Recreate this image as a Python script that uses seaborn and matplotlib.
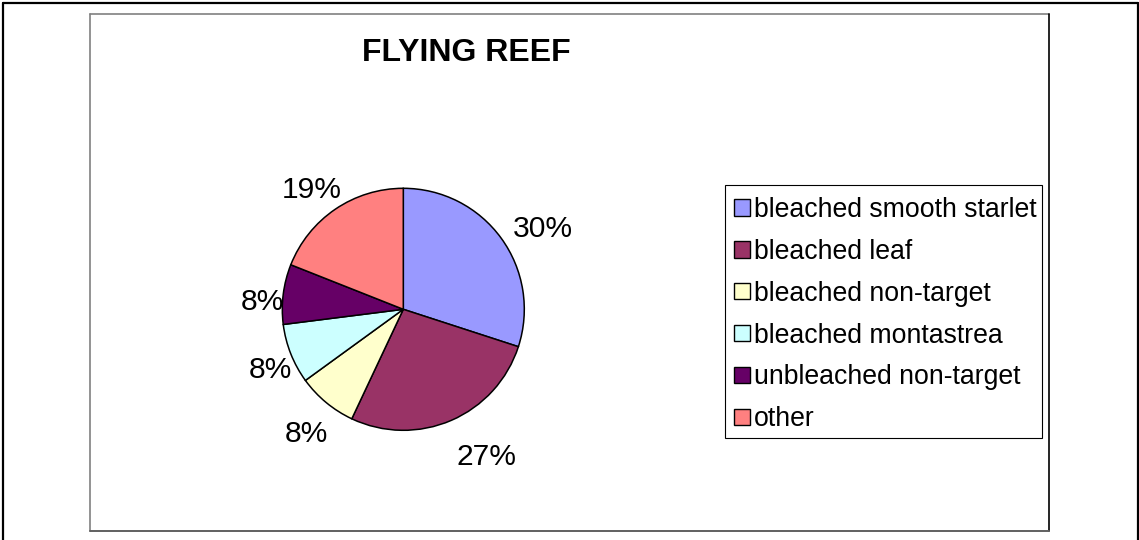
import matplotlib
matplotlib.use("Agg")
import matplotlib.pyplot as plt
import seaborn as sns
import numpy as np
from matplotlib.lines import Line2D
from matplotlib.patches import Rectangle, Wedge
from matplotlib.legend_handler import HandlerPatch

# ---- data ----
categories = ["bleached smooth starlet", "bleached leaf", "bleached non-target",
              "bleached montastrea", "unbleached non-target", "other"]
values = [30, 27, 8, 8, 8, 19]
pct_labels = ["30%", "27%", "8%", "8%", "8%", "19%"]
title = "FLYING REEF"

# ---- style ----
colors = ["#9999FF", "#993366", "#FFFFCC", "#CCFFFF", "#660066", "#FF8080"]
label_angle_offset = [-5.8, 6.3, 1.4, 2.3, 3.8, 2.9]   # degrees
label_dist = [1.336, 1.396, 1.295, 1.205, 1.17, 1.255]  # in radii

sns.set_theme(style="white")
plt.rcParams['font.family'] = ['Liberation Sans', 'DejaVu Sans']
plt.rcParams['text.color'] = 'black'

W, H = 1139, 540
fig = plt.figure(figsize=(W / 100, H / 100), dpi=100)
fig.patch.set_facecolor("white")

def fx(px):
    return px / W

def fy(py):
    return 1 - py / H

# outer border (left, top, right)
lw_outer = 1.6
fig.add_artist(Line2D([fx(2.5), fx(2.5)], [fy(2.5), 0], color="black", lw=lw_outer, transform=fig.transFigure))
fig.add_artist(Line2D([fx(2.5), fx(1137.5)], [fy(2.5), fy(2.5)], color="black", lw=lw_outer, transform=fig.transFigure))
fig.add_artist(Line2D([fx(1137.5), fx(1137.5)], [fy(2.5), 0], color="black", lw=lw_outer, transform=fig.transFigure))

# inner plot-area frame
fig.add_artist(Line2D([fx(90), fx(90)], [fy(13.5), fy(531)], color="#808080", lw=1.2, transform=fig.transFigure))
fig.add_artist(Line2D([fx(90), fx(1049)], [fy(13.5), fy(13.5)], color="#808080", lw=1.2, transform=fig.transFigure))
fig.add_artist(Line2D([fx(1049), fx(1049)], [fy(13.5), fy(531)], color="black", lw=1.2, transform=fig.transFigure))
fig.add_artist(Line2D([fx(90), fx(1049)], [fy(531), fy(531)], color="#606060", lw=1.4, transform=fig.transFigure))

# pie axes: centre (403.3, 309.3) px, radius 121 px, limits +-1.5
R = 121.0
cx, cy = 403.3, 309.3
half = 1.5 * R
ax = fig.add_axes([fx(cx - half), fy(cy + half), 2 * half / W, 2 * half / H])

wedges, _ = ax.pie(values, colors=colors, startangle=90, counterclock=False,
                   radius=1.0,
                   wedgeprops=dict(edgecolor="black", linewidth=1.1))
ax.set_xlim(-1.5, 1.5)
ax.set_ylim(-1.5, 1.5)
ax.set_aspect("equal")
ax.axis("off")

for w, txt, off, d in zip(wedges, pct_labels, label_angle_offset, label_dist):
    mid = np.deg2rad((w.theta1 + w.theta2) / 2 + off)
    ax.text(d * np.cos(mid), d * np.sin(mid) - 0.012, txt, ha="center", va="center",
            fontsize=21.6, color="black")

fig.text(fx(466), fy(53), title, ha="center", va="center", fontsize=23,
         fontweight="bold", color="black")

def square_patch(legend, orig_handle, xdescent, ydescent, width, height, fontsize):
    s = height
    return Rectangle((-xdescent + width - s, -ydescent), s, s)

# legend box frame
fig.add_artist(Rectangle((fx(725), fy(438)), fx(1042) - fx(725), fy(185) - fy(438),
                         transform=fig.transFigure, facecolor="none",
                         edgecolor="black", linewidth=0.8))

leg = ax.legend(wedges, categories, loc="upper left",
                bbox_to_anchor=(fx(733), fy(197)), bbox_transform=fig.transFigure,
                frameon=False, fontsize=19.2,
                borderaxespad=0, borderpad=0, labelspacing=0.594,
                handlelength=0.65, handleheight=0.565, handletextpad=0.15,
                labelcolor="black",
                handler_map={Wedge: HandlerPatch(patch_func=square_patch)})
for h in leg.legend_handles:
    h.set_edgecolor("black")
    h.set_linewidth(1.0)

fig.savefig("out.png", dpi=100, facecolor="white")
